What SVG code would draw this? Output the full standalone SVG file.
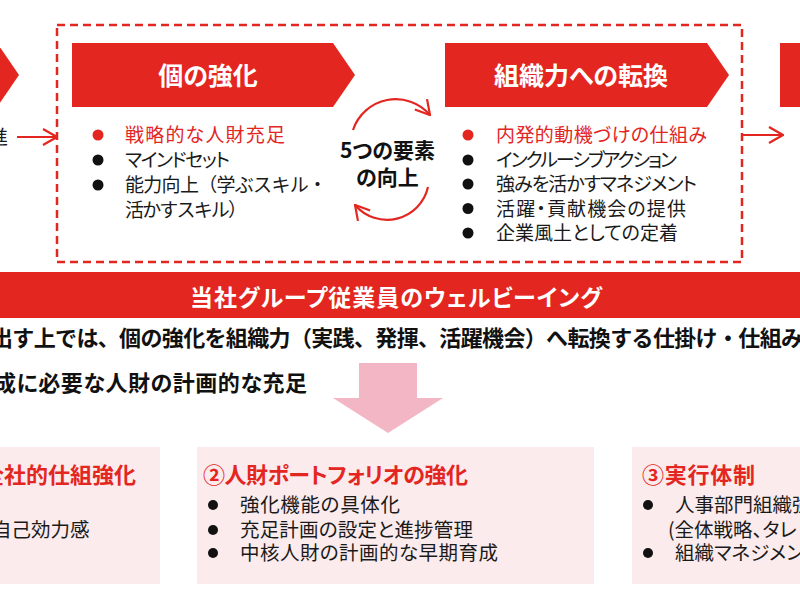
<svg xmlns="http://www.w3.org/2000/svg" width="800" height="600" viewBox="0 0 800 600">
<style>
text{font-family:"Noto Sans CJK JP","Noto Sans",sans-serif;font-feature-settings:"palt";}
.full{font-feature-settings:normal;}
.red{fill:#e3261f;}
.hdr{fill:#fff;font-weight:bold;font-size:25px;text-anchor:middle;}
.item{font-size:19px;fill:#1a1a1a;}
.itemr{font-size:19px;fill:#e3261f;}
.bold{font-weight:bold;fill:#111;}
.ttl{font-weight:bold;font-size:22px;fill:#e3261f;}
.body{font-size:19.5px;fill:#1a1a1a;}
.dot{fill:#111;}
.box{fill:#fbebec;}
.conn{fill:none;stroke:#e3261f;stroke-width:2.2;}
</style>
<defs>
<marker id="arr" viewBox="0 0 16 18" refX="15" refY="9" markerWidth="16" markerHeight="18" markerUnits="userSpaceOnUse" orient="auto">
<path d="M1,1 L15,9 L1,17" fill="none" stroke="#e3261f" stroke-width="2.2"/>
</marker>
</defs>
<rect width="800" height="600" fill="#fff"/>

<g id="left-chevron">
<polygon class="red" points="-10,43 -3,43 19,75 -3,107 -10,107"/>
<text class="item" x="-11" y="144">進</text>
</g>

<g id="frame">
<rect x="57" y="25" width="685" height="237" fill="none" stroke="#e3261f" stroke-width="2.5" stroke-dasharray="8 5"/>
</g>

<g id="node-individual">
<polygon class="red" points="72,43 333,43 355,75 333,107 72,107"/>
<text class="hdr" x="208" y="85">個の強化</text>
<circle cx="98" cy="135" r="5.5" fill="#e3261f"/>
<text class="itemr" x="125" y="142" textLength="160">戦略的な人財充足</text>
<circle class="dot" cx="98" cy="160" r="5.5"/>
<text class="item" x="125" y="167" textLength="105">マインドセット</text>
<circle class="dot" cx="98" cy="185" r="5.5"/>
<text class="item full" x="125" y="192" textLength="202">能力向上（学ぶスキル・</text>
<text class="item full" x="125" y="217" textLength="122">活かすスキル）</text>
</g>

<g id="node-center">
<text class="bold" x="387.5" y="158" font-size="21" text-anchor="middle">5つの要素</text>
<text class="bold" x="387.5" y="185" font-size="21" text-anchor="middle">の向上</text>
</g>

<g id="node-organization">
<polygon class="red" points="445,43 707,43 729,75 707,107 445,107"/>
<text class="hdr" x="581" y="85">組織力への転換</text>
<circle cx="468" cy="135" r="5.5" fill="#e3261f"/>
<text class="itemr" x="496" y="142" textLength="211">内発的動機づけの仕組み</text>
<circle class="dot" cx="468" cy="160" r="5.5"/>
<text class="item" x="496" y="167" textLength="181">インクルーシブアクション</text>
<circle class="dot" cx="468" cy="184" r="5.5"/>
<text class="item" x="496" y="191" textLength="201">強みを活かすマネジメント</text>
<circle class="dot" cx="468" cy="208.5" r="5.5"/>
<text class="item" x="496" y="216" textLength="190">活躍・貢献機会の提供</text>
<circle class="dot" cx="468" cy="233" r="5.5"/>
<text class="item" x="496" y="240" textLength="182">企業風土としての定着</text>
</g>

<g id="right-chevron">
<rect class="red" x="780" y="43" width="25" height="64"/>
</g>

<g id="connectors">
<line class="conn" x1="17" y1="137" x2="57" y2="137" marker-end="url(#arr)"/>
<line class="conn" x1="742" y1="135" x2="783" y2="135" marker-end="url(#arr)"/>
<path class="conn" d="M353,130 A45,45 0 0 1 430,115" marker-end="url(#arr)"/>
<path class="conn" d="M428,187 A42,42 0 0 1 355,205" marker-end="url(#arr)"/>
</g>

<g id="wellbeing-bar">
<rect class="red" x="0" y="272" width="800" height="46"/>
<text x="190" y="305.5" fill="#fff" font-weight="bold" font-size="23" textLength="412">当社グループ従業員のウェルビーイング</text>
</g>

<g id="statement">
<text class="bold full" x="-9" y="346" font-size="22" textLength="812">出す上では、個の強化を組織力（実践、発揮、活躍機会）へ転換する仕掛け・仕組み</text>
<text class="bold" x="-6" y="391" font-size="22" textLength="313">成に必要な人財の計画的な充足</text>
</g>

<g id="down-arrow">
<polygon points="359,363 417,363 417,398 443,398 388,433 333,398 359,398" fill="#f3b6c4"/>
</g>

<g id="box1">
<rect class="box" x="-10" y="447" width="170" height="137"/>
<text class="ttl" x="-18" y="483">全社的仕組強化</text>
<text class="body" x="-8" y="537">自己効力感</text>
</g>

<g id="box2">
<rect class="box" x="197" y="447" width="397" height="137"/>
<text class="ttl" x="203" y="483" textLength="265">②人財ポートフォリオの強化</text>
<circle class="dot" cx="213" cy="505" r="5"/>
<text class="body" x="240" y="512" textLength="160">強化機能の具体化</text>
<circle class="dot" cx="213" cy="530" r="5"/>
<text class="body" x="240" y="537" textLength="233">充足計画の設定と進捗管理</text>
<circle class="dot" cx="213" cy="553" r="5"/>
<text class="body" x="240" y="560" textLength="258">中核人財の計画的な早期育成</text>
</g>

<g id="box3">
<rect class="box" x="632" y="447" width="178" height="137"/>
<text class="ttl" x="642" y="483" textLength="113">③実行体制</text>
<circle class="dot" cx="648" cy="505" r="5"/>
<text class="body" x="675" y="512">人事部門組織強</text>
<text class="body" x="668" y="537">(全体戦略、タレ</text>
<circle class="dot" cx="648" cy="553" r="5"/>
<text class="body" x="675" y="560">組織マネジメント</text>
</g>
</svg>
